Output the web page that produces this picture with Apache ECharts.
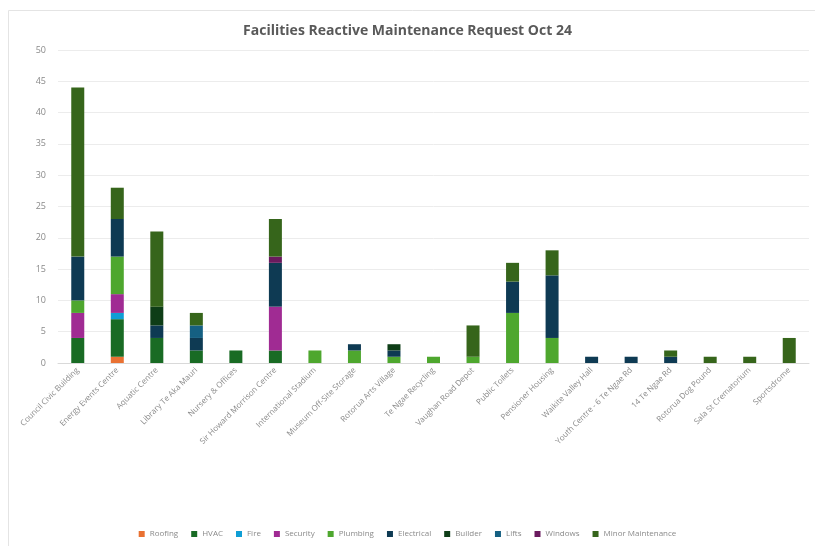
<!DOCTYPE html>
<html>
<head>
<meta charset="utf-8">
<script src="https://cdn.jsdelivr.net/npm/echarts@6/dist/echarts.min.js"></script>
<style>
  html, body { margin: 0; padding: 0; background: #fff; }
  #chart { width: 815px; height: 546px; }
</style>
</head>
<body>
<div id="chart"></div>
<script>
const sites = ["Council Civic Building", "Energy Events Centre", "Aquatic Centre", "Library Te Aka Mauri",
  "Nursery & Offices", "Sir Howard Morrison Centre", "International Stadium", "Museum Off-Site Storage",
  "Rotorua Arts Village", "Te Ngae Recycling", "Vaughan Road Depot", "Public Toilets", "Pensioner Housing",
  "Waikite Valley Hall", "Youth Centre - 6 Te Ngae Rd", "14 Te Ngae Rd", "Rotorua Dog Pound",
  "Sala St Crematorium", "Sportsdrome"];

const roofing     = [0, 1, 0, 0, 0, 0, 0, 0, 0, 0, 0, 0, 0, 0, 0, 0, 0, 0, 0];
const hvac        = [4, 6, 4, 2, 2, 2, 0, 0, 0, 0, 0, 0, 0, 0, 0, 0, 0, 0, 0];
const fire        = [0, 1, 0, 0, 0, 0, 0, 0, 0, 0, 0, 0, 0, 0, 0, 0, 0, 0, 0];
const security    = [4, 3, 0, 0, 0, 7, 0, 0, 0, 0, 0, 0, 0, 0, 0, 0, 0, 0, 0];
const plumbing    = [2, 6, 0, 0, 0, 0, 2, 2, 1, 1, 1, 8, 4, 0, 0, 0, 0, 0, 0];
const electrical  = [7, 6, 2, 2, 0, 7, 0, 1, 1, 0, 0, 5, 10, 1, 1, 1, 0, 0, 0];
const builder     = [0, 0, 3, 0, 0, 0, 0, 0, 1, 0, 0, 0, 0, 0, 0, 0, 0, 0, 0];
const lifts       = [0, 0, 0, 2, 0, 0, 0, 0, 0, 0, 0, 0, 0, 0, 0, 0, 0, 0, 0];
const windows     = [0, 0, 0, 0, 0, 1, 0, 0, 0, 0, 0, 0, 0, 0, 0, 0, 0, 0, 0];
const minorMaint  = [27, 5, 12, 2, 0, 6, 0, 0, 0, 0, 5, 3, 4, 0, 0, 1, 1, 1, 4];

const yTicks = [0, 5, 10, 15, 20, 25, 30, 35, 40, 45, 50];

const seriesDefs = [
  { name: "Roofing", data: roofing, color: "#E97132" },
  { name: "HVAC", data: hvac, color: "#196B24" },
  { name: "Fire", data: fire, color: "#0F9ED5" },
  { name: "Security", data: security, color: "#A02B93" },
  { name: "Plumbing", data: plumbing, color: "#4EA72E" },
  { name: "Electrical", data: electrical, color: "#0E3A53" },
  { name: "Builder", data: builder, color: "#0E3D17" },
  { name: "Lifts", data: lifts, color: "#156082" },
  { name: "Windows", data: windows, color: "#6A1A5E" },
  { name: "Minor Maintenance", data: minorMaint, color: "#36651B" }
];

let myChart = echarts.init(document.getElementById("chart"));
let option = {
  animation: false,
  backgroundColor: "#fff",
  title: {
    text: "Facilities Reactive Maintenance Request Oct 24",
    left: "center",
    top: 19,
    textStyle: { fontFamily: "Open Sans", fontSize: 14, fontWeight: "bold", color: "#595959" }
  },
  graphic: [
    {
      type: "rect",
      shape: { x: 8.5, y: 10.5, width: 820, height: 560 },
      style: { fill: "none", stroke: "#e4e4e4", lineWidth: 1 },
      silent: true
    }
  ],
  legend: {
    bottom: 3,
    left: "center",
    itemWidth: 6,
    itemHeight: 6,
    itemGap: 13,
    icon: "rect",
    textStyle: { fontFamily: "Open Sans", fontSize: 8, color: "#8a8a8a" },
    data: seriesDefs.map(s => s.name)
  },
  grid: { left: 58, right: 6, top: 50, bottom: 183 },
  xAxis: {
    type: "category",
    data: sites,
    axisTick: { show: false },
    axisLine: { lineStyle: { color: "#d9d9d9" } },
    axisLabel: {
      interval: 0,
      rotate: 45,
      fontFamily: "Open Sans",
      fontSize: 8,
      color: "#8a8a8a",
      margin: 6
    }
  },
  yAxis: {
    type: "value",
    min: yTicks[0],
    max: yTicks[yTicks.length - 1],
    interval: 5,
    axisLabel: { fontFamily: "Open Sans", fontSize: 9, color: "#8a8a8a", margin: 12 },
    axisLine: { show: false },
    axisTick: { show: false },
    splitLine: { lineStyle: { color: "#ececec" } }
  },
  series: seriesDefs.map(s => ({
    name: s.name,
    type: "bar",
    stack: "total",
    barWidth: 13,
    itemStyle: { color: s.color },
    data: s.data.map(v => (v === 0 ? null : v))
  }))
};
myChart.setOption(option);
</script>
</body>
</html>
